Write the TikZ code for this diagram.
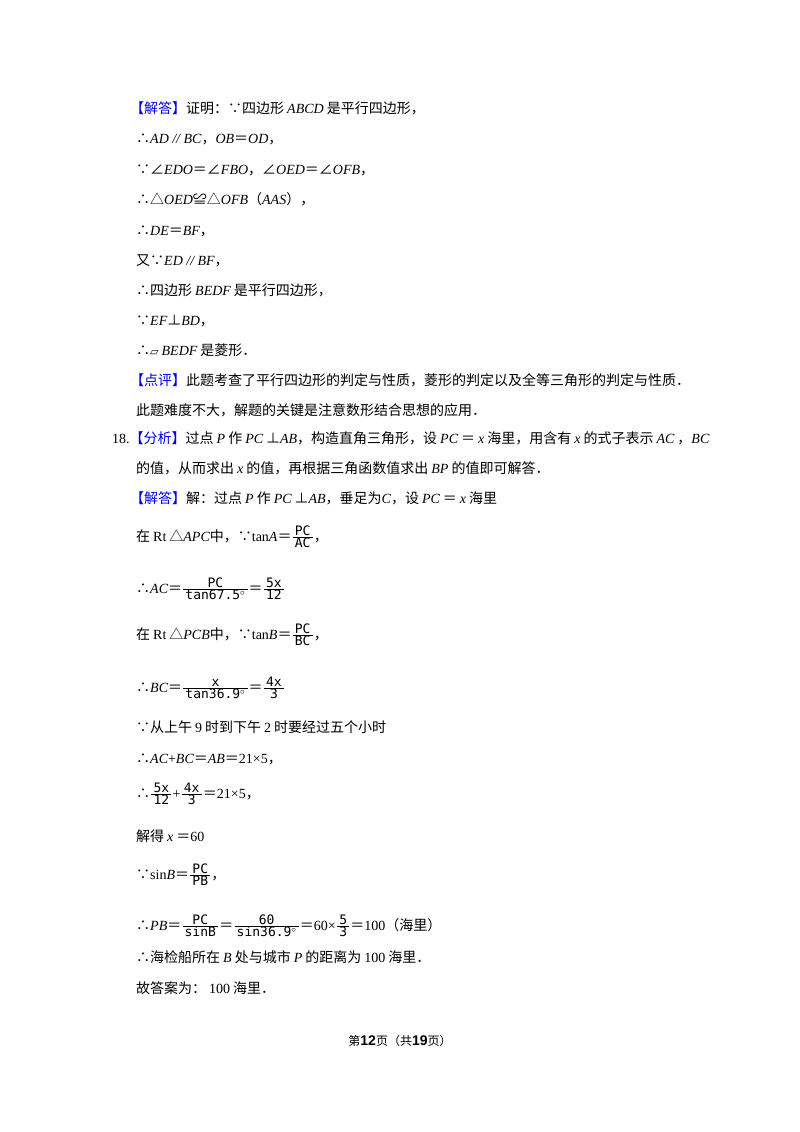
\documentclass[tikz,border=0pt]{standalone}
\usepackage{fontspec}
\setmainfont{Noto Sans CJK SC}
\newfontfamily\tmr{Liberation Serif}
\newfontfamily\dvs{DejaVu Sans}
\newfontfamily\lsans{Liberation Sans}
\newfontfamily\lmono{DejaVu Sans Mono}
\newcommand\mv[1]{{\tmr\itshape #1}}
\newcommand\ms[1]{\hspace{3pt}{\tmr\itshape #1}\hspace{3pt}}
\newcommand\rmt[1]{{\tmr #1}}
\newcommand\rs[1]{\hspace{3pt}{\tmr #1}\hspace{3pt}}
\newcommand\eq{＝}
\newcommand\fr[2]{\ensuremath{\frac{\hbox{\lmono\fontsize{13}{13}\selectfont\,#1\,}}{\hbox{\lmono\fontsize{13}{13}\selectfont\,#2\,}}}}
\definecolor{hl}{RGB}{0,0,230}
\newcommand\bl[1]{{\color{hl}#1}}
\tikzset{ln/.style={anchor=base west,inner sep=0pt,font=\fontsize{14}{17}\selectfont}}
\begin{document}
\begin{tikzpicture}[x=1pt,y=-1pt]
\useasboundingbox (0,0) rectangle (800,1132);
\node[ln] (l1) at (130,113) {\bl{【解答】}证明：∵四边形\ms{ABCD}是平行四边形，};
\node[ln] (l2) at (136,143) {∴\mv{AD // BC}，\mv{OB}\eq\mv{OD}，};
\node[ln] (l3) at (136,174) {∵∠\mv{EDO}\eq∠\mv{FBO}，∠\mv{OED}\eq∠\mv{OFB}，};
\node[ln] (l4) at (136,204) {∴△\mv{OED}≌△\mv{OFB}（\mv{AAS}），};
\node[ln] (l5) at (136,235) {∴\mv{DE}\eq\mv{BF}，};
\node[ln] (l6) at (136,265) {又∵\mv{ED // BF}，};
\node[ln] (l7) at (136,295) {∴四边形\ms{BEDF}是平行四边形，};
\node[ln] (l8) at (136,325) {∵\mv{EF}⊥\mv{BD}，};
\node[ln] (l9) at (136,355) {∴{\dvs\fontsize{11}{11}\selectfont ▱}\ms{BEDF}是菱形．};
\node[ln] (l10) at (130,385) {\bl{【点评】}此题考查了平行四边形的判定与性质，菱形的判定以及全等三角形的判定与性质．};
\node[ln] (l11) at (136,415) {此题难度不大，解题的关键是注意数形结合思想的应用．};
\node[ln] (l12) at (112,443) {\rmt{18.}\bl{【分析】}过点\ms{P}作\ms{PC}⊥\mv{AB}，构造直角三角形，设\ms{PC}\eq\ms{x}海里，用含有\ms{x}的式子表示\ms{AC}，\mv{BC}};
\node[ln] (l13) at (136,473) {的值，从而求出\ms{x}的值，再根据三角函数值求出\ms{BP}的值即可解答．};
\node[ln] (l14) at (130,503) {\bl{【解答】}解：过点\ms{P}作\ms{PC}⊥\mv{AB}，垂足为\mv{C}，设\ms{PC}\eq\ms{x}海里};
\node[ln] (l15) at (136,541) {在\rs{Rt}△\mv{APC}中，∵\rmt{tan}\mv{A}\eq\fr{PC}{AC}，};
\node[ln] (l16) at (136,593) {∴\mv{AC}\eq\fr{PC}{tan67.5$^\circ$}\eq\fr{5x}{12}};
\node[ln] (l17) at (136,639) {在\rs{Rt}△\mv{PCB}中，∵\rmt{tan}\mv{B}\eq\fr{PC}{BC}，};
\node[ln] (l18) at (136,692) {∴\mv{BC}\eq\fr{x}{tan36.9$^\circ$}\eq\fr{4x}{3}};
\node[ln] (l19) at (136,732) {∵从上午\rs{9}时到下午\rs{2}时要经过五个小时};
\node[ln] (l20) at (136,763) {∴\mv{AC}\rmt{+}\mv{BC}\eq\mv{AB}\eq\rmt{21×5}，};
\node[ln] (l21) at (136,798) {∴\fr{5x}{12}\rmt{+}\fr{4x}{3}\eq\rmt{21×5}，};
\node[ln] (l22) at (136,841) {解得\ms{x}\eq\rmt{60}};
\node[ln] (l23) at (136,879) {∵\rmt{sin}\mv{B}\eq\fr{PC}{PB}，};
\node[ln] (l24) at (136,930) {∴\mv{PB}\eq\fr{PC}{sinB}\eq\fr{60}{sin36.9$^\circ$}\eq\rmt{60×}\fr{5}{3}\eq\rmt{100}（海里）};
\node[ln] (l25) at (136,962) {∴海检船所在\ms{B}处与城市\ms{P}的距离为\rs{100}海里．};
\node[ln] (l26) at (136,993) {故答案为：\rs{100}海里．};
\node[anchor=base,inner sep=0pt,font=\fontsize{12}{14}\selectfont] (ft) at (400,1045) {第{\lsans\bfseries\fontsize{14}{14}\selectfont 12}页（共{\lsans\bfseries\fontsize{14}{14}\selectfont 19}页）};
\end{tikzpicture}
\end{document}
